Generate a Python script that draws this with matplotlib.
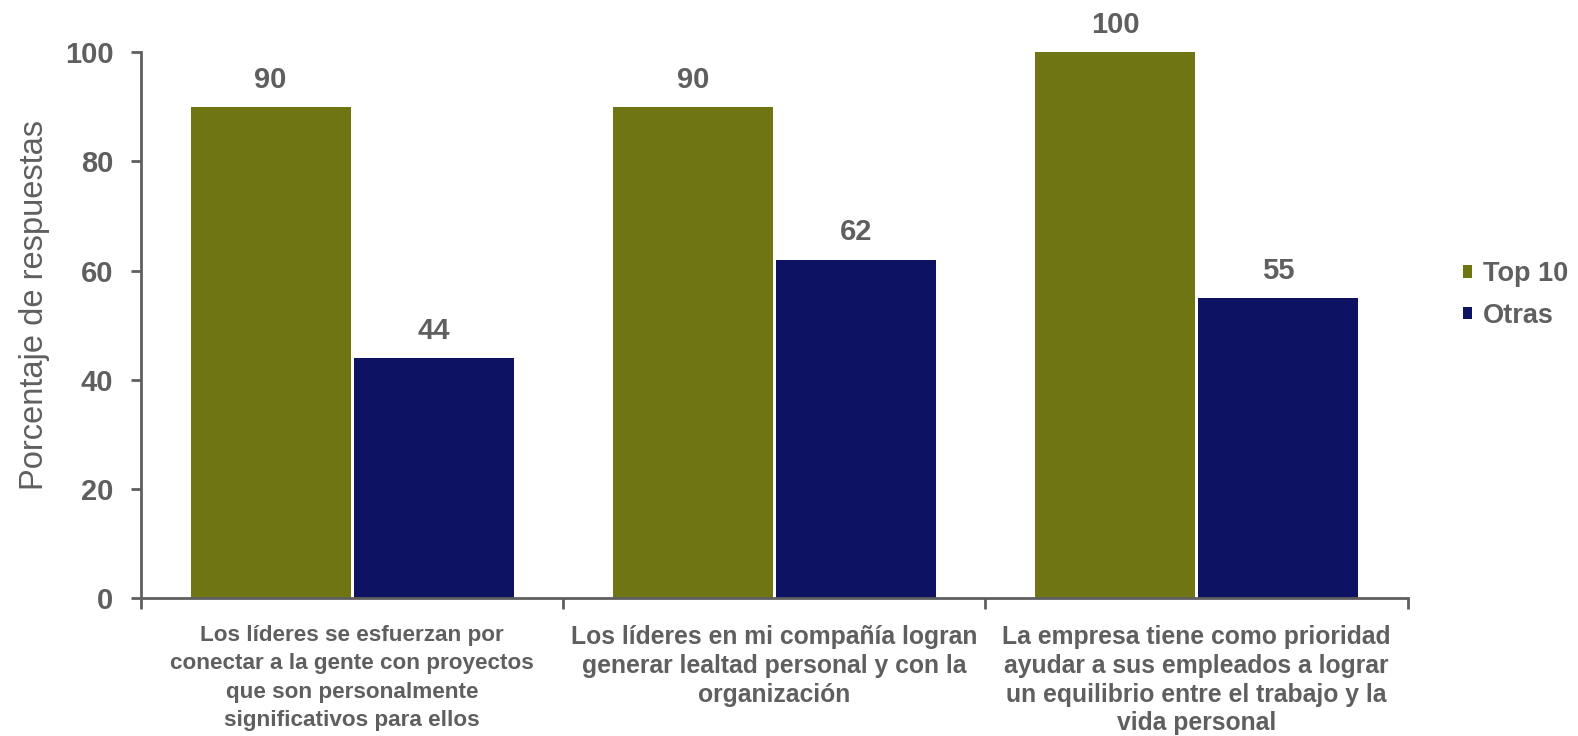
import matplotlib
matplotlib.use("Agg")
import matplotlib.pyplot as plt
import numpy as np

categories = [
    "Los líderes se esfuerzan por\nconectar a la gente con proyectos\nque son personalmente\nsignificativos para ellos",
    "Los líderes en mi compañía logran\ngenerar lealtad personal y con la\norganización",
    "La empresa tiene como prioridad\nayudar a sus empleados a lograr\nun equilibrio entre el trabajo y la\nvida personal",
]
top10 = [90, 90, 100]
otras = [44, 62, 55]
series_names = ["Top 10", "Otras"]
yticks = [0, 20, 40, 60, 80, 100]

GREEN = "#707513"
NAVY = "#0d1263"
GRAY = "#5f5f5f"
FONT = ["Liberation Sans", "DejaVu Sans"]

fig = plt.figure(figsize=(15.78, 7.36), dpi=100)
ax = fig.add_axes([0.0894, 0.1875, 0.8026, 0.7415])

x = np.arange(len(categories))
w = 0.379
off = 0.193
b1 = ax.bar(x - off, top10, w, color=GREEN, label=series_names[0])
b2 = ax.bar(x + off, otras, w, color=NAVY, label=series_names[1])

for bars, vals in ((b1, top10), (b2, otras)):
    for rect, v in zip(bars, vals):
        ax.annotate(f"{v}", (rect.get_x() + rect.get_width() / 2, v),
                    xytext=(0, 9.5), textcoords="offset points",
                    ha="center", va="bottom", fontsize=21, fontweight="bold",
                    color=GRAY, family=FONT)

ax.set_xlim(-0.5, len(categories) - 0.5)
ax.set_ylim(0, 100)
ax.set_yticks(yticks)
ax.set_yticklabels([str(t) for t in yticks], fontsize=21, fontweight="bold",
                   color=GRAY, family=FONT)
ax.tick_params(axis="y", direction="out", length=7, width=2, color=GRAY, pad=13)

ax.set_xticks(np.arange(len(categories) + 1) - 0.5)
ax.set_xticklabels([])
ax.tick_params(axis="x", which="major", direction="out", length=8, width=2, color=GRAY)
ax.set_xticks(x, minor=True)
ax.set_xticklabels(categories, minor=True)
ax.tick_params(axis="x", which="minor", length=0, pad=19.5)
for i, lab in enumerate(ax.get_xticklabels(minor=True)):
    lab.set_fontsize(17.8 if i else 16.2)
    lab.set_fontweight("bold")
    lab.set_color(GRAY)
    lab.set_linespacing(1.25 if i else 1.46)
    lab.set_va("top")
    lab.set_family(FONT)

for s in ("top", "right"):
    ax.spines[s].set_visible(False)
for s in ("left", "bottom"):
    ax.spines[s].set_color(GRAY)
    ax.spines[s].set_linewidth(2)

ax.set_ylabel("Porcentaje de respuestas", fontsize=23.5, color=GRAY, family=FONT)
ax.yaxis.set_label_coords(-0.072, 0.537)

leg = fig.legend(handles=[b1, b2], labels=series_names, loc="center left",
                 bbox_to_anchor=(0.927, 0.599), frameon=False,
                 prop={"family": FONT, "weight": "bold", "size": 19.5},
                 handlelength=0.33, handleheight=0.33, handletextpad=0.4,
                 labelspacing=0.58, borderaxespad=0, borderpad=0)
for t in leg.get_texts():
    t.set_color(GRAY)

fig.savefig("out.png", dpi=100)
